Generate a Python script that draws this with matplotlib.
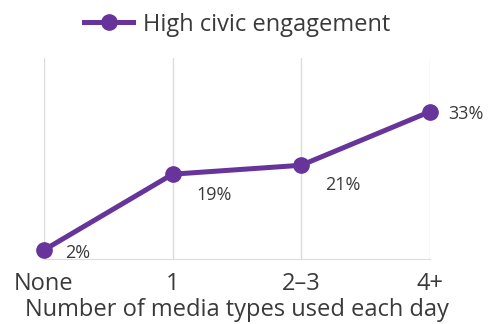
import matplotlib
matplotlib.use("Agg")
from matplotlib import pyplot as plt

categories = ["None", "1", "2\u20133", "4+"]
engagement = [2, 19, 21, 33]
value_labels = ["2%", "19%", "21%", "33%"]
series_name = "High civic engagement"

_PURPLE = "#66349a"
_TEXT = "#3a3a3a"
_GRID = "#dcdcdc"
# label offsets in points from each marker
_OFFSETS = [(24, -2), (30, -15), (30, -14), (26, -2)]

plt.rcParams["font.family"] = ["Open Sans", "DejaVu Sans"]

fig = plt.figure(figsize=(4.93, 3.24), dpi=100)
ax = fig.add_axes([0.089, 0.2006, 0.783, 0.62])

x = list(range(len(categories)))
ax.plot(x, engagement, "-o", color=_PURPLE, lw=3.6, ms=11,
        clip_on=False, zorder=3, label=series_name)

for xi, val, lab, off in zip(x, engagement, value_labels, _OFFSETS):
  ax.annotate(lab, (xi, val), xytext=off, textcoords="offset points",
              ha="center", va="center", fontsize=13, color=_TEXT)

ax.set_xlim(0, 3)
ax.set_ylim(0, 45)
ax.set_xticks(x)
ax.set_xticklabels(categories, fontsize=17, color=_TEXT)
ax.set_yticks([])
ax.tick_params(axis="x", length=0, pad=9)
ax.grid(axis="x", color=_GRID, lw=1)
for side in ("top", "left", "right"):
  ax.spines[side].set_visible(False)
ax.spines["bottom"].set_color(_GRID)
ax.set_xlabel("Number of media types used each day", fontsize=17,
              color=_TEXT, labelpad=2)

ax.legend(loc="lower center", bbox_to_anchor=(0.5, 1.06), frameon=False,
          fontsize=17, labelcolor=_TEXT, handlelength=2.1,
          handletextpad=0.4, borderaxespad=0)

fig.savefig("out.png", dpi=100)
